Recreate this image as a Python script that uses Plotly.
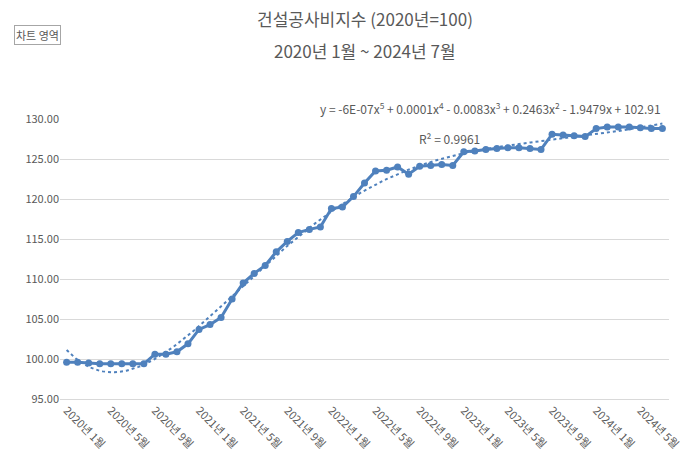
import numpy as np
import plotly.graph_objects as go

months = [f"{y}년 {m}월" for y in range(2020, 2025) for m in range(1, 13)][:55]
values = [
    99.6, 99.6, 99.5, 99.4, 99.4, 99.4, 99.4, 99.4, 100.6, 100.6, 100.9, 101.9,
    103.7, 104.3, 105.2, 107.5, 109.5, 110.7, 111.7, 113.4, 114.7, 115.8, 116.2, 116.5,
    118.8, 119.0, 120.3, 122.0, 123.5, 123.6, 124.0, 123.1, 124.1, 124.2, 124.3, 124.2,
    125.9, 126.0, 126.2, 126.3, 126.4, 126.4, 126.3, 126.2, 128.1, 128.0, 127.9, 127.8,
    128.8, 129.0, 129.0, 129.0, 128.9, 128.8, 128.8,
]
tick_labels = months[::4]
y_ticks = [95, 100, 105, 110, 115, 120, 125, 130]

# 5th-order polynomial trendline like Excel
xs = np.arange(1, len(values) + 1)
coef = np.polyfit(xs, values, 5)
xf = np.linspace(1, len(values), 200)
trend = np.polyval(coef, xf)

FONT = "Malgun Gothic, Noto Sans CJK KR, sans-serif"
blue = "#4f81bd"

fig = go.Figure()
fig.add_trace(go.Scatter(x=xf - 1, y=trend, mode="lines", xaxis="x2",
                         line=dict(color=blue, width=2, dash="dot"), showlegend=False))
fig.add_trace(go.Scatter(x=months, y=values, mode="lines+markers",
                         line=dict(color=blue, width=3), marker=dict(size=7, color=blue),
                         showlegend=False))

fig.update_layout(
    width=689, height=459,
    margin=dict(l=52, r=28, t=111, b=68, autoexpand=False),
    paper_bgcolor="white", plot_bgcolor="white",
    font=dict(family=FONT, color="#595959"),
    xaxis=dict(type="category", categoryorder="array", categoryarray=months,
               tickvals=tick_labels, ticktext=tick_labels, tickangle=45,
               range=[-0.6, 54.6], showgrid=False, showline=True, linecolor="#d9d9d9",
               tickfont=dict(size=11), automargin=False),
    xaxis2=dict(overlaying="x", range=[-0.6, 54.6], visible=False),
    yaxis=dict(range=[95, 130], tickvals=y_ticks, automargin=False,
               ticktext=[f"{v:.2f}" for v in y_ticks], gridcolor="#d9d9d9",
               zeroline=False, tickfont=dict(size=11)),
    annotations=[
        dict(text="건설공사비지수 (2020년=100)", xref="paper", yref="paper",
             x=0.5, y=1.36, yanchor="middle", showarrow=False,
             font=dict(size=17, color="#595959")),
        dict(text="2020년 1월 ~ 2024년 7월", xref="paper", yref="paper",
             x=0.5, y=1.245, yanchor="middle", showarrow=False,
             font=dict(size=17, color="#595959")),
        dict(text="y = -6E-07x<sup>5</sup> + 0.0001x<sup>4</sup> - 0.0083x<sup>3</sup> + 0.2463x<sup>2</sup> - 1.9479x + 102.91",
             xref="paper", yref="paper", x=0.99, y=1.0, xanchor="right", yanchor="bottom",
             showarrow=False, font=dict(size=12)),
        dict(text="R² = 0.9961", xref="paper", yref="paper", x=0.64, y=0.93,
             xanchor="center", yanchor="middle", showarrow=False, font=dict(size=12)),
        dict(text="차트 영역", xref="paper", yref="paper", x=-0.075, y=1.3,
             xanchor="left", yanchor="middle", showarrow=False, bordercolor="#a6a6a6",
             borderwidth=1, bgcolor="white", font=dict(size=11, color="#595959")),
    ],
)

fig.write_html("out.html")
